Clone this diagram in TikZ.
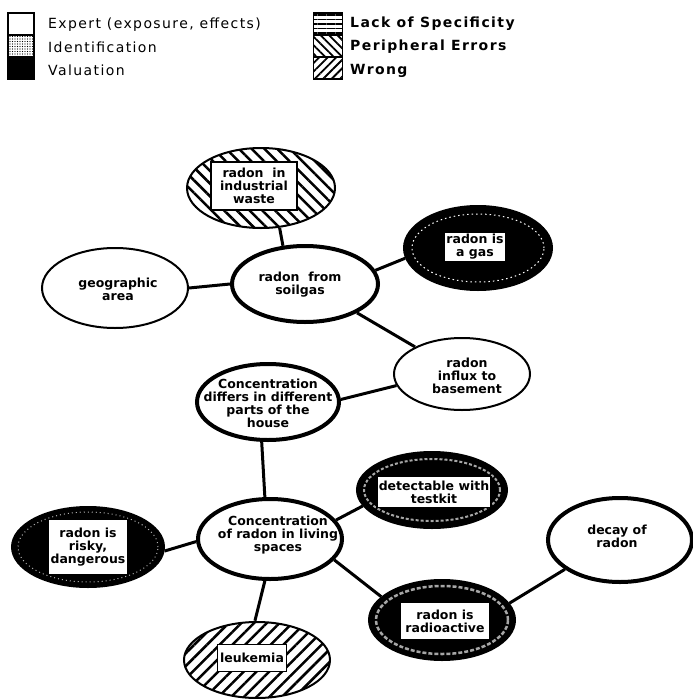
\documentclass[tikz,border=0pt]{standalone}
\usepackage{fontspec}
\setmainfont{DejaVu Sans}
\newfontfamily\legfont[LetterSpace=10]{DejaVu Sans}
\usetikzlibrary{shapes.geometric,patterns,patterns.meta}
\begin{document}
\begin{tikzpicture}[x=1pt,y=-1pt,
 ell/.style={ellipse,draw,line width=2pt,fill=white,inner sep=0pt},
 thickell/.style={ell,line width=4pt},
 blackell/.style={ell,fill=black},
 wrongell/.style={ell,pattern={Lines[angle=45,distance=9pt,line width=2.5pt]}},
 periell/.style={ell,pattern={Lines[angle=-45,distance=9pt,line width=2.5pt]}},
 txt/.style={inner sep=0pt,font=\bfseries\fontsize{12.5}{13}\selectfont,align=center},
 box/.style={draw,fill=white,line width=1.5pt,inner sep=2pt,font=\bfseries\fontsize{12.5}{13}\selectfont,align=center},
 speck/.style={draw=white,line width=1pt,dash pattern=on 1.5pt off 3pt},
 edge/.style={line width=3pt},
 legtxt/.style={anchor=west,font=\legfont\fontsize{14}{15}\selectfont,inner sep=0pt},
 legtxtb/.style={anchor=west,font=\legfont\bfseries\fontsize{14}{15}\selectfont,inner sep=0pt}]
\useasboundingbox (0,0) rectangle (693,699);
% legend left
\node[draw,line width=1.5pt,minimum width=26pt,minimum height=22pt,inner sep=0pt] (lexp) at (21,24) {};
\node[draw,line width=1.5pt,minimum width=26pt,minimum height=22pt,inner sep=0pt,fill=gray!55,pattern={Dots[distance=2.5pt,radius=0.6pt]},pattern color=black] (lid) at (21,46) {};
\node[draw,line width=1.5pt,minimum width=26pt,minimum height=22pt,inner sep=0pt,fill=black] (lval) at (21,68) {};
\node[legtxt] (texp) at (48,25) {Expert (exposure, effects)};
\node[legtxt] (tid) at (48,47) {Identification};
\node[legtxt] (tval) at (48,70) {Valuation};
% legend right
\node[draw,line width=1.5pt,minimum width=29pt,minimum height=22pt,inner sep=0pt,pattern={Lines[angle=0,distance=4.5pt,line width=1.5pt]}] (llack) at (328,24) {};
\node[draw,line width=1.5pt,minimum width=29pt,minimum height=22pt,inner sep=0pt,pattern={Lines[angle=-45,distance=6pt,line width=1.8pt]}] (lperi) at (328,46) {};
\node[draw,line width=1.5pt,minimum width=29pt,minimum height=22pt,inner sep=0pt,pattern={Lines[angle=45,distance=6pt,line width=1.8pt]}] (lwrong) at (328,68) {};
\node[legtxtb] (tlack) at (350,24) {Lack of Specificity};
\node[legtxtb] (tperi) at (350,47) {Peripheral Errors};
\node[legtxtb] (twrong) at (350,71) {Wrong};
% concept nodes
\node[periell,minimum width=148pt,minimum height=80pt] (iw) at (261,188) {};
\node[box,minimum width=86pt,minimum height=48pt] (iwt) at (254,186) {radon \ in\\industrial\\waste};
\node[blackell,minimum width=148pt,minimum height=84pt] (gas) at (478,248) {};
\draw[speck] (gas.center) ellipse (66pt and 34pt);
\node[box,draw=white,minimum width=58pt,minimum height=22pt,inner sep=1pt] (gast) at (475,247) {radon is\\a gas};
\node[ell,minimum width=146pt,minimum height=80pt] (geo) at (115,288) {};
\node[txt] (geot) at (118,289) {geographic\\area};
\node[thickell,minimum width=146pt,minimum height=76pt] (soil) at (305,284) {};
\node[txt] (soilt) at (300,285) {radon \ from\\soilgas};
\node[ell,minimum width=136pt,minimum height=72pt] (flux) at (462,374) {};
\node[txt] (fluxt) at (467,376) {radon\\influx to\\basement};
\node[thickell,minimum width=142pt,minimum height=76pt] (diff) at (268,402) {};
\node[txt] (difft) at (268,403) {Concentration\\differs in different\\parts of the\\house};
\node[blackell,minimum width=150pt,minimum height=76pt] (det) at (432,490) {};
\draw[draw=gray!70,line width=2pt,dash pattern=on 3pt off 2pt] (det.center) ellipse (68pt and 31pt);
\node[box,minimum width=112pt,minimum height=31pt] (dett) at (434,492) {detectable with\\testkit};
\node[blackell,minimum width=152pt,minimum height=80pt] (risk) at (88,547) {};
\draw[draw=gray!60,line width=1pt,dash pattern=on 1pt off 3pt] (risk.center) ellipse (70pt and 35pt);
\node[box,minimum width=79pt,minimum height=55pt] (riskt) at (88,547) {radon is\\risky,\\dangerous};
\node[thickell,minimum width=144pt,minimum height=80pt] (liv) at (270,539) {};
\node[txt] (livt) at (278,535) {Concentration\\of radon in living\\spaces};
\node[thickell,minimum width=144pt,minimum height=84pt] (dec) at (620,540) {};
\node[txt] (dect) at (617,536) {decay of\\radon};
\node[blackell,minimum width=146pt,minimum height=80pt] (rad) at (442,620) {};
\draw[draw=gray!70,line width=2.5pt,dash pattern=on 4pt off 2pt] (rad.center) ellipse (66pt and 34pt);
\node[box,minimum width=90pt,minimum height=37pt] (radt) at (445,621) {radon is\\radioactive};
\node[wrongell,minimum width=146pt,minimum height=76pt] (leuk) at (257,660) {};
\node[box,minimum width=69pt,minimum height=27pt] (leukt) at (252,658) {leukemia};
% connectors
\draw[edge] (iw.-65) -- (soil.120);
\draw[edge] (soil.11) -- (gas.188);
\draw[edge] (geo.east) -- (soil.west);
\draw[edge] (soil.-29) -- (flux.150);
\draw[edge] (flux.190) -- (diff.2);
\draw[edge] (diff.-99) -- (liv.97);
\draw[edge] (liv.16) -- (det.193);
\draw[edge] (liv.182) -- (risk.357);
\draw[edge] (liv.-97) -- (leuk.93);
\draw[edge] (liv.-18) -- (rad.159);
\draw[edge] (rad.14) -- (dec.-152);
\end{tikzpicture}
\end{document}
